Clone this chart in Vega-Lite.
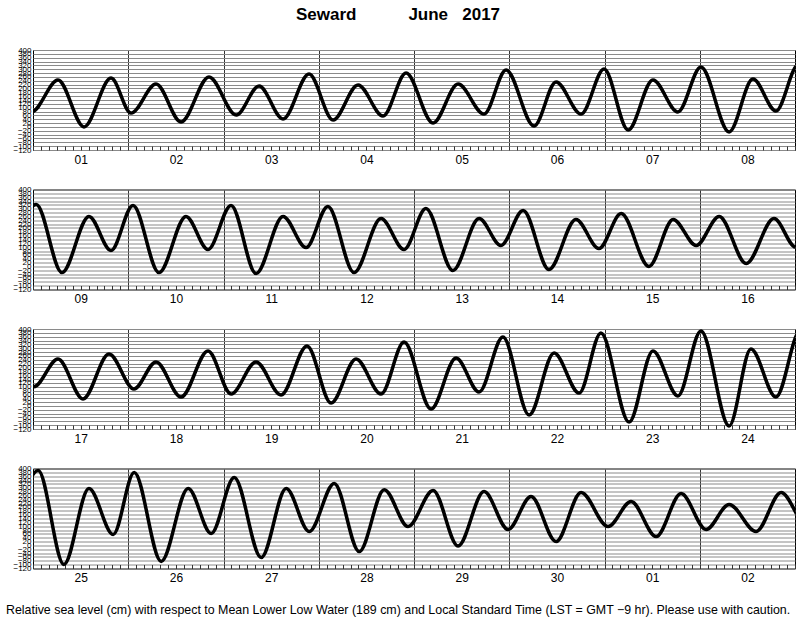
{
"$schema": "https://vega.github.io/schema/vega-lite/v6.json",
"padding": {"left": 5, "top": 5, "right": 5, "bottom": 4},
"bounds": "flush",
"spacing": 39.5,
"title": {"text": "Seward\u00a0\u00a0\u00a0\u00a0\u00a0\u00a0\u00a0\u00a0\u00a0\u00a0\u00a0June\u00a0\u00a0\u00a02017", "fontSize": 17, "fontWeight": "bold", "font": "Liberation Sans", "color": "black", "anchor": "middle", "frame": "group", "dx": -16, "offset": 22},
"datasets": {"tide": [
{"h":-6.5,"v":300},{"h":-0.3,"v":80},
{"h":6.3,"v":244},{"h":12.85,"v":0},{"h":19.66,"v":254},{"h":24.7,"v":72},{"h":31.0,"v":223},{"h":37.3,"v":26},{"h":44.35,"v":260},{"h":51.2,"v":62},{"h":56.95,"v":213},{"h":63.0,"v":41},{"h":69.55,"v":275},{"h":75.6,"v":36},{"h":81.9,"v":218},{"h":88.2,"v":57},{"h":94.0,"v":280},{"h":100.8,"v":20},{"h":107.1,"v":223},{"h":113.65,"v":67},{"h":119.2,"v":296},{"h":126.25,"v":5},{"h":131.8,"v":234},{"h":138.1,"v":67},{"h":143.9,"v":301},{"h":149.95,"v":-16},{"h":156.2,"v":244},{"h":162.5,"v":78},{"h":168.3,"v":312},{"h":175.4,"v":-26},{"h":181.4,"v":249},{"h":187.2,"v":83},
{"h":192.8,"v":322},{"h":199.3,"v":-32},{"h":206.1,"v":260},{"h":211.65,"v":83},{"h":217.2,"v":317},{"h":223.75,"v":-32},{"h":230.55,"v":260},{"h":236.1,"v":88},{"h":241.9,"v":317},{"h":248.2,"v":-37},{"h":255.0,"v":260},{"h":260.8,"v":98},{"h":266.3,"v":312},{"h":272.9,"v":-32},{"h":279.7,"v":249},{"h":285.5,"v":88},{"h":291.0,"v":301},{"h":297.8,"v":-21},{"h":304.4,"v":249},{"h":309.9,"v":109},{"h":315.5,"v":291},{"h":322.0,"v":-16},{"h":328.8,"v":244},{"h":334.6,"v":93},{"h":340.2,"v":275},{"h":347.2,"v":0},{"h":353.3,"v":244},{"h":359.1,"v":109},{"h":364.9,"v":260},{"h":371.7,"v":15},{"h":378.7,"v":249},{"h":384.2,"v":100},
{"h":390.3,"v":244},{"h":396.6,"v":36},{"h":403.15,"v":270},{"h":409.45,"v":88},{"h":415.0,"v":229},{"h":421.3,"v":46},{"h":428.1,"v":286},{"h":433.9,"v":62},{"h":440.2,"v":229},{"h":446.5,"v":57},{"h":453.05,"v":312},{"h":459.1,"v":15},{"h":465.4,"v":244},{"h":471.7,"v":62},{"h":477.5,"v":332},{"h":484.3,"v":-16},{"h":490.6,"v":249},{"h":496.4,"v":72},{"h":502.4,"v":358},{"h":509.0,"v":-47},{"h":515.3,"v":275},{"h":521.6,"v":67},{"h":527.1,"v":379},{"h":534.2,"v":-84},{"h":540.2,"v":286},{"h":546.5,"v":52},{"h":552.3,"v":390},{"h":559.4,"v":-104},{"h":564.9,"v":296},{"h":571.2,"v":46},
{"h":577.3,"v":390},{"h":583.8,"v":-99},{"h":590.1,"v":296},{"h":596.2,"v":57},{"h":601.5,"v":379},{"h":608.3,"v":-83},{"h":615.1,"v":296},{"h":620.9,"v":62},{"h":626.7,"v":353},{"h":633.5,"v":-63},{"h":639.8,"v":296},{"h":645.6,"v":72},{"h":651.9,"v":322},{"h":658.2,"v":-32},{"h":664.5,"v":290},{"h":670.5,"v":98},{"h":676.8,"v":286},{"h":683.1,"v":-3},{"h":689.65,"v":280},{"h":695.7,"v":83},{"h":701.5,"v":254},{"h":707.8,"v":20},{"h":714.1,"v":275},{"h":720.9,"v":98},{"h":726.7,"v":228},{"h":733.0,"v":46},{"h":739.3,"v":270},{"h":745.6,"v":83},{"h":751.4,"v":213},{"h":758.2,"v":72},{"h":764.5,"v":275},{"h":770.8,"v":110},{"h":777.0,"v":240}
]},
"vconcat": [
{
 "width": 762, "height": 100,
 "data": {"name": "tide"},
 "transform": [{"filter": "datum.h >= -10 && datum.h <= 202"}],
 "encoding": {"y": {"field": "v", "type": "quantitative", "scale": {"domain": [-120, 400], "nice": false, "zero": false},
   "axis": {"title": null, "values": [-120,-100,-80,-60,-40,-20,0,20,40,60,80,100,120,140,160,180,200,220,240,260,280,300,320,340,360,380,400], "labelFontSize": 8, "labelPadding": 2, "ticks": false, "domain": false, "grid": true, "gridColor": "#8a8a8a", "gridWidth": 1, "gridOpacity": 1, "labelOverlap": false, "labelFlush": false, "labelBound": false, "labelColor": "black"}}},
 "layer": [
  {"mark": {"type": "line", "interpolate": "monotone", "color": "black", "strokeWidth": 3.5, "clip": true},
   "encoding": {"x": {"field": "h", "type": "quantitative", "scale": {"domain": [0, 192], "nice": false, "zero": false},
     "axis": {"orient": "bottom", "title": null, "values": [12,36,60,84,108,132,156,180], "labelExpr": "(floor(datum.value/24)+1 > 30 ? '0' + (floor(datum.value/24)-29) : ((floor(datum.value/24)+1 < 10 ? '0' : '') + (floor(datum.value/24)+1)))", "ticks": false, "domain": false, "grid": false, "labelFontSize": 12, "labelPadding": 4, "labelFlush": false, "labelColor": "black"}}}},
  {"mark": {"type": "line", "strokeOpacity": 0, "clip": true},
   "encoding": {"x": {"field": "h", "type": "quantitative", "scale": {"domain": [0, 192], "nice": false, "zero": false},
     "axis": {"orient": "bottom", "title": null, "values": [24,48,72,96,120,144,168], "labels": false, "ticks": false, "domain": false, "grid": true, "gridColor": "#333333", "gridWidth": 1, "gridOpacity": 1}}}},
  {"mark": {"type": "line", "strokeOpacity": 0, "clip": true},
   "encoding": {"x": {"field": "h", "type": "quantitative", "scale": {"domain": [0, 192], "nice": false, "zero": false},
     "axis": {"orient": "bottom", "title": null, "tickCount": 96, "labels": false, "ticks": true, "tickSize": -4, "tickColor": "#333333", "tickWidth": 1, "domain": false, "grid": false}}}}
 ],
 "resolve": {"axis": {"x": "independent"}}
},
{
 "width": 762, "height": 100,
 "data": {"name": "tide"},
 "transform": [{"filter": "datum.h >= 182 && datum.h <= 394"}],
 "encoding": {"y": {"field": "v", "type": "quantitative", "scale": {"domain": [-120, 400], "nice": false, "zero": false},
   "axis": {"title": null, "values": [-120,-100,-80,-60,-40,-20,0,20,40,60,80,100,120,140,160,180,200,220,240,260,280,300,320,340,360,380,400], "labelFontSize": 8, "labelPadding": 2, "ticks": false, "domain": false, "grid": true, "gridColor": "#8a8a8a", "gridWidth": 1, "gridOpacity": 1, "labelOverlap": false, "labelFlush": false, "labelBound": false, "labelColor": "black"}}},
 "layer": [
  {"mark": {"type": "line", "interpolate": "monotone", "color": "black", "strokeWidth": 3.5, "clip": true},
   "encoding": {"x": {"field": "h", "type": "quantitative", "scale": {"domain": [192, 384], "nice": false, "zero": false},
     "axis": {"orient": "bottom", "title": null, "values": [204,228,252,276,300,324,348,372], "labelExpr": "(floor(datum.value/24)+1 > 30 ? '0' + (floor(datum.value/24)-29) : ((floor(datum.value/24)+1 < 10 ? '0' : '') + (floor(datum.value/24)+1)))", "ticks": false, "domain": false, "grid": false, "labelFontSize": 12, "labelPadding": 4, "labelFlush": false, "labelColor": "black"}}}},
  {"mark": {"type": "line", "strokeOpacity": 0, "clip": true},
   "encoding": {"x": {"field": "h", "type": "quantitative", "scale": {"domain": [192, 384], "nice": false, "zero": false},
     "axis": {"orient": "bottom", "title": null, "values": [216,240,264,288,312,336,360], "labels": false, "ticks": false, "domain": false, "grid": true, "gridColor": "#333333", "gridWidth": 1, "gridOpacity": 1}}}},
  {"mark": {"type": "line", "strokeOpacity": 0, "clip": true},
   "encoding": {"x": {"field": "h", "type": "quantitative", "scale": {"domain": [192, 384], "nice": false, "zero": false},
     "axis": {"orient": "bottom", "title": null, "tickCount": 96, "labels": false, "ticks": true, "tickSize": -4, "tickColor": "#333333", "tickWidth": 1, "domain": false, "grid": false}}}}
 ],
 "resolve": {"axis": {"x": "independent"}}
},
{
 "width": 762, "height": 100,
 "data": {"name": "tide"},
 "transform": [{"filter": "datum.h >= 374 && datum.h <= 586"}],
 "encoding": {"y": {"field": "v", "type": "quantitative", "scale": {"domain": [-120, 400], "nice": false, "zero": false},
   "axis": {"title": null, "values": [-120,-100,-80,-60,-40,-20,0,20,40,60,80,100,120,140,160,180,200,220,240,260,280,300,320,340,360,380,400], "labelFontSize": 8, "labelPadding": 2, "ticks": false, "domain": false, "grid": true, "gridColor": "#8a8a8a", "gridWidth": 1, "gridOpacity": 1, "labelOverlap": false, "labelFlush": false, "labelBound": false, "labelColor": "black"}}},
 "layer": [
  {"mark": {"type": "line", "interpolate": "monotone", "color": "black", "strokeWidth": 3.5, "clip": true},
   "encoding": {"x": {"field": "h", "type": "quantitative", "scale": {"domain": [384, 576], "nice": false, "zero": false},
     "axis": {"orient": "bottom", "title": null, "values": [396,420,444,468,492,516,540,564], "labelExpr": "(floor(datum.value/24)+1 > 30 ? '0' + (floor(datum.value/24)-29) : ((floor(datum.value/24)+1 < 10 ? '0' : '') + (floor(datum.value/24)+1)))", "ticks": false, "domain": false, "grid": false, "labelFontSize": 12, "labelPadding": 4, "labelFlush": false, "labelColor": "black"}}}},
  {"mark": {"type": "line", "strokeOpacity": 0, "clip": true},
   "encoding": {"x": {"field": "h", "type": "quantitative", "scale": {"domain": [384, 576], "nice": false, "zero": false},
     "axis": {"orient": "bottom", "title": null, "values": [408,432,456,480,504,528,552], "labels": false, "ticks": false, "domain": false, "grid": true, "gridColor": "#333333", "gridWidth": 1, "gridOpacity": 1}}}},
  {"mark": {"type": "line", "strokeOpacity": 0, "clip": true},
   "encoding": {"x": {"field": "h", "type": "quantitative", "scale": {"domain": [384, 576], "nice": false, "zero": false},
     "axis": {"orient": "bottom", "title": null, "tickCount": 96, "labels": false, "ticks": true, "tickSize": -4, "tickColor": "#333333", "tickWidth": 1, "domain": false, "grid": false}}}}
 ],
 "resolve": {"axis": {"x": "independent"}}
},
{
 "width": 762, "height": 100,
 "title": {"text": "Relative sea level (cm) with respect to Mean Lower Low Water (189 cm) and Local Standard Time (LST = GMT −9 hr). Please use with caution.", "orient": "bottom", "anchor": "start", "frame": "group", "dx": -27, "offset": 20, "fontSize": 12.4, "fontWeight": "normal", "font": "Liberation Sans", "color": "black"},
 "data": {"name": "tide"},
 "transform": [{"filter": "datum.h >= 566 && datum.h <= 778"}],
 "encoding": {"y": {"field": "v", "type": "quantitative", "scale": {"domain": [-120, 400], "nice": false, "zero": false},
   "axis": {"title": null, "values": [-120,-100,-80,-60,-40,-20,0,20,40,60,80,100,120,140,160,180,200,220,240,260,280,300,320,340,360,380,400], "labelFontSize": 8, "labelPadding": 2, "ticks": false, "domain": false, "grid": true, "gridColor": "#8a8a8a", "gridWidth": 1, "gridOpacity": 1, "labelOverlap": false, "labelFlush": false, "labelBound": false, "labelColor": "black"}}},
 "layer": [
  {"mark": {"type": "line", "interpolate": "monotone", "color": "black", "strokeWidth": 3.5, "clip": true},
   "encoding": {"x": {"field": "h", "type": "quantitative", "scale": {"domain": [576, 768], "nice": false, "zero": false},
     "axis": {"orient": "bottom", "title": null, "values": [588,612,636,660,684,708,732,756], "labelExpr": "(floor(datum.value/24)+1 > 30 ? '0' + (floor(datum.value/24)-29) : ((floor(datum.value/24)+1 < 10 ? '0' : '') + (floor(datum.value/24)+1)))", "ticks": false, "domain": false, "grid": false, "labelFontSize": 12, "labelPadding": 4, "labelFlush": false, "labelColor": "black"}}}},
  {"mark": {"type": "line", "strokeOpacity": 0, "clip": true},
   "encoding": {"x": {"field": "h", "type": "quantitative", "scale": {"domain": [576, 768], "nice": false, "zero": false},
     "axis": {"orient": "bottom", "title": null, "values": [600,624,648,672,696,720,744], "labels": false, "ticks": false, "domain": false, "grid": true, "gridColor": "#333333", "gridWidth": 1, "gridOpacity": 1}}}},
  {"mark": {"type": "line", "strokeOpacity": 0, "clip": true},
   "encoding": {"x": {"field": "h", "type": "quantitative", "scale": {"domain": [576, 768], "nice": false, "zero": false},
     "axis": {"orient": "bottom", "title": null, "tickCount": 96, "labels": false, "ticks": true, "tickSize": -4, "tickColor": "#333333", "tickWidth": 1, "domain": false, "grid": false}}}}
 ],
 "resolve": {"axis": {"x": "independent"}}
}
],
"config": {"font": "Liberation Sans", "view": {"stroke": "black", "strokeWidth": 1}, "axis": {"labelFont": "Liberation Sans"}}
}
